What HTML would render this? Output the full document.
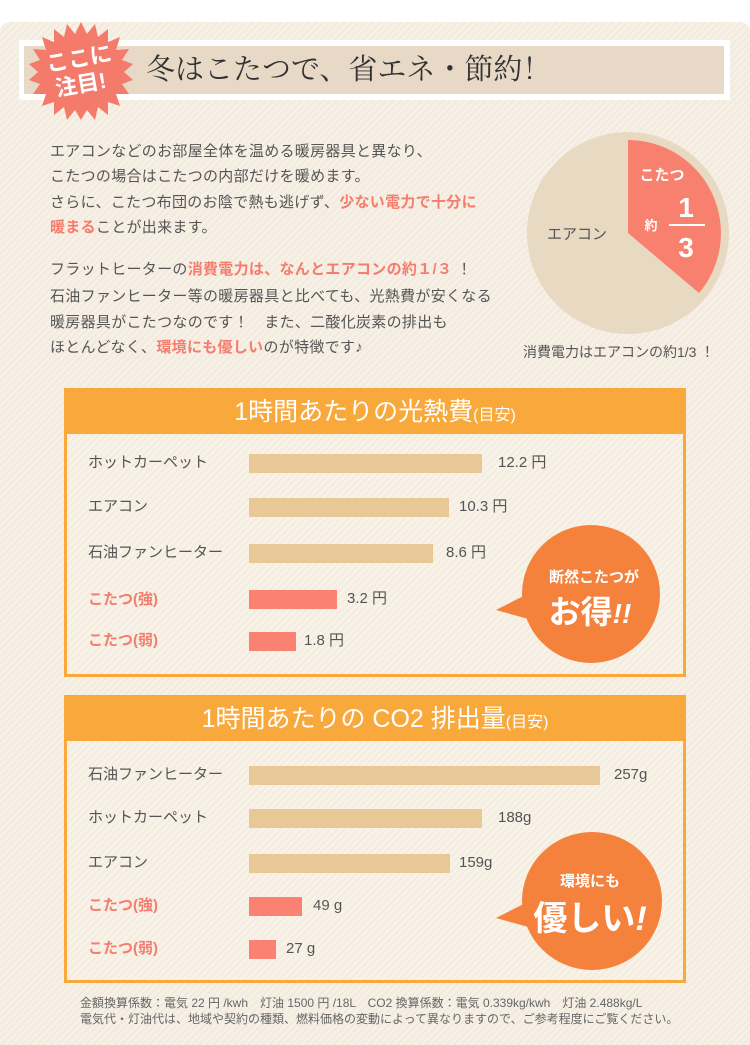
<!DOCTYPE html>
<html><head><meta charset="utf-8"><style>
*{margin:0;padding:0;box-sizing:border-box}
body{width:750px;height:1045px;background:#fff;position:relative;overflow:hidden;font-family:"Liberation Sans","Noto Sans CJK JP",sans-serif;color:#555}
.bg{position:absolute;left:0;top:22px;width:750px;height:1023px;border-radius:10px 10px 0 0;background:repeating-linear-gradient(135deg,#f7f0e6 0 3px,#f2eadd 3px 5px)}
.a{position:absolute;white-space:nowrap}
.p{font-size:15px;letter-spacing:0.3px;color:#555;line-height:18px}
.r{color:#f47d6e;font-weight:bold}
.box{position:absolute;left:64px;width:622px;border:3px solid #f9a93c;background:repeating-linear-gradient(135deg,#f8f2e8 0 3px,#f3ecdf 3px 5px)}
.hd{position:absolute;left:0;top:0;width:100%;height:43px;background:#f9a93c;color:#fff;font-size:25px;text-align:center;line-height:43px}
.hd small{font-size:16px}
.lb{position:absolute;left:21px;font-size:15px;color:#555;line-height:18px}
.lbr{color:#f47d6e;font-weight:bold}
.bar{position:absolute;left:182px;height:19px;background:#e8c897}
.bar.k{background:#fb8272}
.v{position:absolute;font-size:15px;color:#555;line-height:18px}
</style></head><body>
<div class="bg"></div>
<!-- banner -->
<div class="a" style="left:19px;top:40px;width:711px;height:60px;background:#fff"></div>
<div class="a" style="left:24px;top:46px;width:700px;height:48px;background:#e7d9c6"></div>
<div class="a" style="left:146px;top:52px;font-family:'Liberation Serif','Noto Serif CJK SC',serif;font-size:29px;color:#333;line-height:36px">冬はこたつで、省エネ・節約！</div>
<svg class="a" style="left:28px;top:20px" width="106" height="102" viewBox="0 0 106 102">
<polygon fill="#f47a6c" points="
53,2 59,14 67,4 70,17 80,9 80,22 92,17 88,30 101,29 94,40 105,44 96,52 105,60 94,64 101,74 88,74 92,86 80,82 80,95 70,87 67,100 59,90 53,100 47,90 39,100 36,87 26,95 26,82 14,86 18,74 5,74 12,64 1,60 10,52 1,44 12,40 5,29 18,30 14,17 26,22 26,9 36,17 39,4 47,14"/>
<text x="53" y="46" fill="#fff" font-size="22" font-weight="bold" text-anchor="middle" transform="rotate(-10 53 50)" font-family="Liberation Sans,Noto Sans CJK JP,sans-serif">ここに</text>
<text x="53" y="72" fill="#fff" font-size="22" font-weight="bold" text-anchor="middle" transform="rotate(-10 53 66)" font-family="Liberation Sans,Noto Sans CJK JP,sans-serif">注目!</text>
</svg>
<!-- paragraphs -->
<div class="a p" style="left:50px;top:143px">エアコンなどのお部屋全体を温める暖房器具と異なり、</div>
<div class="a p" style="left:50px;top:168px">こたつの場合はこたつの内部だけを暖めます。</div>
<div class="a p" style="left:50px;top:194px">さらに、こたつ布団のお陰で熱も逃げず、<span class="r">少ない電力で十分に</span></div>
<div class="a p" style="left:50px;top:219px"><span class="r">暖まる</span>ことが出来ます。</div>
<div class="a p" style="left:50px;top:261px">フラットヒーターの<span class="r">消費電力は、なんとエアコンの約１/３</span> ！</div>
<div class="a p" style="left:50px;top:288px">石油ファンヒーター等の暖房器具と比べても、光熱費が安くなる</div>
<div class="a p" style="left:50px;top:314px">暖房器具がこたつなのです！　また、二酸化炭素の排出も</div>
<div class="a p" style="left:50px;top:339px">ほとんどなく、<span class="r">環境にも優しい</span>のが特徴です♪</div>
<!-- pie -->
<svg class="a" style="left:520px;top:125px" width="215" height="215">
<circle cx="108" cy="108" r="101" fill="#e8d9c3"/>
<path d="M108,108 L108,15 A93,93 0 0 1 179,168 Z" fill="#f8806e"/>
<text x="142" y="55" fill="#fff" font-size="15" font-weight="bold" text-anchor="middle" font-family="Liberation Sans,Noto Sans CJK JP,sans-serif">こたつ</text>
<text x="131" y="105" fill="#fff" font-size="13" font-weight="bold" text-anchor="middle" font-family="Liberation Sans,Noto Sans CJK JP,sans-serif">約</text>
<text x="166" y="92" fill="#fff" font-size="28" font-weight="bold" text-anchor="middle" font-family="Liberation Sans,sans-serif">1</text>
<rect x="149" y="99" width="36" height="2" fill="#fff"/>
<text x="166" y="132" fill="#fff" font-size="28" font-weight="bold" text-anchor="middle" font-family="Liberation Sans,sans-serif">3</text>
<text x="57" y="114" fill="#555" font-size="15" text-anchor="middle" font-family="Liberation Sans,Noto Sans CJK JP,sans-serif">エアコン</text>
</svg>
<div class="a p" style="left:523px;top:343px;font-size:14px;letter-spacing:0">消費電力はエアコンの約1/3 ！</div>

<!-- chart 1 -->
<div class="box" style="top:388px;height:289px">
<div class="hd">1時間あたりの光熱費<small>(目安)</small></div>
<div class="lb" style="top:63px">ホットカーペット</div>
<div class="bar" style="top:63px;width:233px"></div><div class="v" style="left:431px;top:63px">12.2 円</div>
<div class="lb" style="top:107px">エアコン</div>
<div class="bar" style="top:107px;width:200px"></div><div class="v" style="left:392px;top:107px">10.3 円</div>
<div class="lb" style="top:153px">石油ファンヒーター</div>
<div class="bar" style="top:153px;width:184px"></div><div class="v" style="left:379px;top:153px">8.6 円</div>
<div class="lb lbr" style="top:200px">こたつ(強)</div>
<div class="bar k" style="top:199px;width:88px"></div><div class="v" style="left:280px;top:199px">3.2 円</div>
<div class="lb lbr" style="top:241px">こたつ(弱)</div>
<div class="bar k" style="top:241px;width:47px"></div><div class="v" style="left:237px;top:241px">1.8 円</div>
</div>
<svg class="a" style="left:490px;top:520px" width="180" height="150">
<ellipse cx="101" cy="74" rx="69" ry="69" fill="#f5823c"/>
<polygon points="6,90 55,65 60,105" fill="#f5823c"/>
<text x="104" y="62" fill="#fff" font-size="15" font-weight="bold" text-anchor="middle" font-family="Liberation Sans,Noto Sans CJK JP,sans-serif">断然こたつが</text>
<text x="100" y="103" fill="#fff" font-size="32" font-weight="bold" text-anchor="middle" font-family="Liberation Sans,Noto Sans CJK JP,sans-serif">お得<tspan font-style="italic" font-size="28">!!</tspan></text>
</svg>

<!-- chart 2 -->
<div class="box" style="top:695px;height:288px">
<div class="hd">1時間あたりの CO2 排出量<small>(目安)</small></div>
<div class="lb" style="top:68px">石油ファンヒーター</div>
<div class="bar" style="top:68px;width:351px"></div><div class="v" style="left:547px;top:68px">257g</div>
<div class="lb" style="top:111px">ホットカーペット</div>
<div class="bar" style="top:111px;width:233px"></div><div class="v" style="left:431px;top:111px">188g</div>
<div class="lb" style="top:156px">エアコン</div>
<div class="bar" style="top:156px;width:201px"></div><div class="v" style="left:392px;top:156px">159g</div>
<div class="lb lbr" style="top:199px">こたつ(強)</div>
<div class="bar k" style="top:199px;width:53px"></div><div class="v" style="left:246px;top:199px">49 g</div>
<div class="lb lbr" style="top:242px">こたつ(弱)</div>
<div class="bar k" style="top:242px;width:27px"></div><div class="v" style="left:219px;top:242px">27 g</div>
</div>
<svg class="a" style="left:490px;top:828px" width="180" height="150">
<ellipse cx="102" cy="73" rx="70" ry="69" fill="#f5823c"/>
<polygon points="6,90 55,65 60,105" fill="#f5823c"/>
<text x="100" y="58" fill="#fff" font-size="15" font-weight="bold" text-anchor="middle" font-family="Liberation Sans,Noto Sans CJK JP,sans-serif">環境にも</text>
<text x="100" y="102" fill="#fff" font-size="34" font-weight="bold" text-anchor="middle" font-family="Liberation Sans,Noto Sans CJK JP,sans-serif">優しい<tspan font-style="italic">!</tspan></text>
</svg>

<div class="a" style="left:80px;top:995px;font-size:12px;color:#666;line-height:16px">金額換算係数：電気 22 円 /kwh　灯油 1500 円 /18L　CO2 換算係数：電気 0.339kg/kwh　灯油 2.488kg/L<br>電気代・灯油代は、地域や契約の種類、燃料価格の変動によって異なりますので、ご参考程度にご覧ください。</div>
</body></html>
